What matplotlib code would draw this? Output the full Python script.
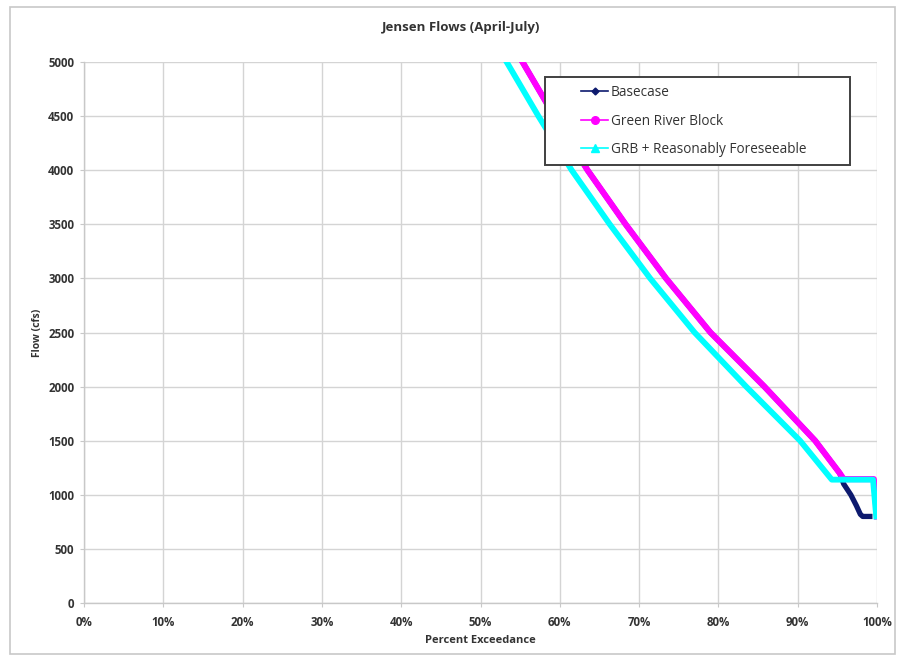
import matplotlib
matplotlib.use("Agg")
import matplotlib.pyplot as plt
from matplotlib.lines import Line2D
from matplotlib.patches import Rectangle
from matplotlib.ticker import FuncFormatter

plt.rcParams['font.family'] = ['Open Sans', 'DejaVu Sans']

# ---- data ----
base_pct = [55.3, 59.3, 63.5, 68.3, 73.4, 79.0, 85.8, 92.2, 95.3, 95.8, 96.7, 97.4, 97.9, 98.2, 99.1]
base_flow = [5000, 4500, 4000, 3500, 3000, 2500, 2000, 1500, 1200, 1100, 1000, 900, 820, 800, 800]

grb_pct = [55.3, 59.3, 63.5, 68.3, 73.4, 79.0, 85.8, 92.2, 95.3, 95.8, 99.6, 100.0]
grb_flow = [5000, 4500, 4000, 3500, 3000, 2500, 2000, 1500, 1200, 1145, 1145, 800]

grbrf_pct = [53.3, 57.3, 61.5, 66.3, 71.4, 77.0, 83.5, 90.3, 94.3, 99.5, 99.9]
grbrf_flow = [5000, 4500, 4000, 3500, 3000, 2500, 2000, 1500, 1140, 1140, 800]

series_names = ["Basecase", "Green River Block", "GRB + Reasonably Foreseeable"]
x_ticks = [0, 10, 20, 30, 40, 50, 60, 70, 80, 90, 100]
y_ticks = [0, 500, 1000, 1500, 2000, 2500, 3000, 3500, 4000, 4500, 5000]

c_base = "#0d1a6e"
c_grb = "#ff00ff"
c_rf = "#00ffff"
txt = "#333333"

W, H = 902, 660


def fx(px):
    return px / W


def fy(py):
    return 1 - py / H


fig = plt.figure(figsize=(9.02, 6.6), dpi=100)
fig.patches.append(Rectangle((fx(10), fy(654)), 885 / W, 647 / H, transform=fig.transFigure,
                             fill=False, edgecolor="#c8c8c8", linewidth=1.2))

ax = fig.add_axes([fx(84), fy(603), (877 - 84) / W, (603 - 62) / H])

ax.plot(base_pct, base_flow, color=c_base, lw=3.8, solid_joinstyle='round', zorder=3)
ax.plot(grb_pct, grb_flow, color=c_grb, lw=4.4, solid_joinstyle='round', zorder=4)
ax.plot(grbrf_pct, grbrf_flow, color=c_rf, lw=4.2, solid_joinstyle='round', zorder=5)

ax.set_xlim(0, 100)
ax.set_ylim(0, 5000)
ax.set_xticks(x_ticks)
ax.set_yticks(y_ticks)
ax.xaxis.set_major_formatter(FuncFormatter(lambda v, p: f"{int(v)}%"))
ax.grid(True, color="#d4d4d4", linewidth=1.0)
ax.set_axisbelow(True)
for s in ["top", "right"]:
    ax.spines[s].set_visible(False)
for s in ["left", "bottom"]:
    ax.spines[s].set_color("#c8c8c8")
    ax.spines[s].set_linewidth(1.0)
ax.tick_params(axis='both', length=3, color="#c8c8c8", labelsize=8.3, labelcolor=txt, pad=4)
ax.tick_params(axis='x', pad=6)
for lab in ax.get_xticklabels() + ax.get_yticklabels():
    lab.set_fontweight('bold')

ax.set_xlabel("Percent Exceedance", fontsize=8, fontweight='bold', color=txt, labelpad=5)
ax.set_ylabel("Flow (cfs)", fontsize=7.5, fontweight='bold', color=txt, labelpad=4)
fig.text(fx(461), fy(28), "Jensen Flows (April-July)", ha='center', va='center',
         fontsize=9.5, fontweight='bold', color=txt)

# legend frame
fig.patches.append(Rectangle((fx(545), fy(165)), (850 - 545) / W, (165 - 77) / H,
                             transform=fig.transFigure, facecolor='white',
                             edgecolor="#404040", linewidth=1.4, zorder=9))

handles = [
    Line2D([], [], color=c_base, lw=1.2, marker='D', markersize=3.5),
    Line2D([], [], color=c_grb, lw=1.2, marker='o', markersize=5.5),
    Line2D([], [], color=c_rf, lw=1.2, marker='^', markersize=5.5),
]
leg = fig.legend(handles, series_names, loc='upper left',
                 bbox_to_anchor=(fx(581), fy(85)), bbox_transform=fig.transFigure,
                 fontsize=9.8, frameon=False, borderpad=0, labelspacing=1.0,
                 handlelength=2.0, handletextpad=0.2, borderaxespad=0)
leg.set_zorder(10)
for t in leg.get_texts():
    t.set_color(txt)

fig.savefig("out.png", dpi=100)
